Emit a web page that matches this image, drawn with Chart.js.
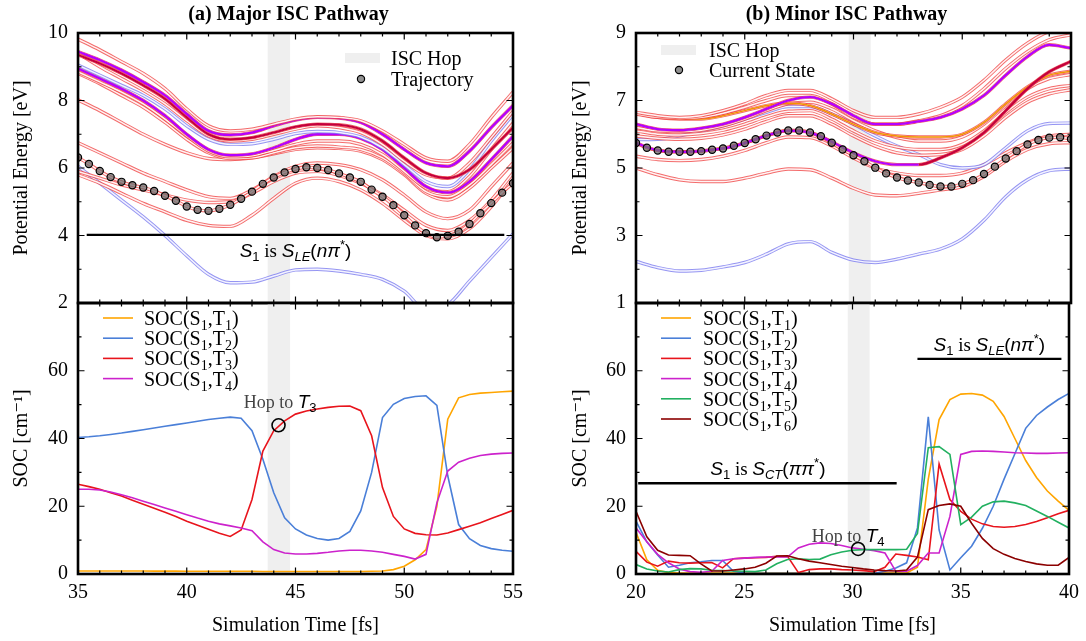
<!DOCTYPE html>
<html>
<head>
<meta charset="utf-8">
<script src="https://cdn.jsdelivr.net/npm/chart.js@4.4.1/dist/chart.umd.min.js"></script>
<style>
  html, body { margin: 0; padding: 0; background: #fff; }
  #wrap { position: relative; width: 1086px; height: 641px; overflow: hidden; background: #fff; }
  canvas { position: absolute; }
</style>
</head>
<body>
<div id="wrap">
  <canvas id="tl" width="540" height="327" style="left:0;top:0"></canvas>
  <canvas id="bl" width="540" height="362" style="left:0;top:279px"></canvas>
  <canvas id="tr" width="530" height="327" style="left:556px;top:0"></canvas>
  <canvas id="br" width="530" height="362" style="left:556px;top:279px"></canvas>
</div>
<script>
// ---------- (a) major pathway, potential energies [eV] ----------
const tlTime = [35, 36, 37, 38, 39, 40, 41, 42, 43, 44, 45, 46, 47, 48, 49, 50, 51, 52, 53, 54, 55];
const tlU1 = [9.82, 9.5, 9.15, 8.8, 8.35, 7.75, 7.25, 7.1, 7.15, 7.3, 7.45, 7.52, 7.5, 7.4, 7.1, 6.7, 6.3, 6.2, 6.7, 7.5, 8.25];
const tlU2 = [9.45, 9.2, 8.9, 8.55, 8.15, 7.6, 7.1, 6.98, 7.05, 7.25, 7.42, 7.5, 7.48, 7.35, 7.0, 6.55, 6.15, 6.05, 6.5, 7.2, 7.85];
const tlU3 = [9.35, 9.1, 8.8, 8.45, 8.05, 7.5, 7.0, 6.85, 6.9, 7.05, 7.22, 7.3, 7.28, 7.15, 6.8, 6.3, 5.85, 5.7, 5.95, 6.55, 7.19];
const tlU4 = [9.4, 9.0, 8.65, 8.3, 7.9, 7.4, 6.95, 6.8, 6.85, 7.0, 7.15, 7.25, 7.2, 7.05, 6.7, 6.2, 5.8, 5.7, 6.15, 6.9, 7.68];
const tlU5 = [9.05, 8.75, 8.45, 8.15, 7.75, 7.25, 6.85, 6.7, 6.72, 6.85, 7.02, 7.08, 7.05, 6.92, 6.6, 6.1, 5.6, 5.45, 5.95, 6.8, 7.58];
const tlU6 = [8.95, 8.65, 8.35, 8.0, 7.55, 7.0, 6.55, 6.38, 6.42, 6.6, 6.85, 7.0, 7.0, 6.88, 6.55, 6.0, 5.45, 5.27, 5.6, 6.25, 6.94];
const tlU7 = [8.85, 8.55, 8.25, 7.9, 7.45, 6.95, 6.5, 6.33, 6.36, 6.52, 6.7, 6.8, 6.8, 6.7, 6.4, 5.9, 5.4, 5.3, 5.75, 6.55, 7.33];
const tlU8 = [8.8, 8.5, 8.15, 7.8, 7.35, 6.85, 6.45, 6.28, 6.3, 6.45, 6.6, 6.65, 6.62, 6.55, 6.3, 5.85, 5.3, 5.15, 5.5, 6.1, 6.74];
const tlU9 = [8.02, 7.7, 7.35, 7.0, 6.7, 6.45, 6.28, 6.25, 6.3, 6.42, 6.55, 6.6, 6.58, 6.5, 6.25, 5.8, 5.25, 5.05, 5.4, 6.0, 6.59];
const tlL1 = [6.75, 6.45, 6.15, 5.85, 5.6, 5.35, 5.15, 5.1, 5.35, 5.75, 6.05, 6.15, 6.1, 5.95, 5.65, 5.2, 4.7, 4.5, 4.75, 5.45, 6.15];
const tlL2 = [5.9, 5.7, 5.5, 5.35, 5.2, 5.05, 4.98, 5.0, 5.25, 5.6, 5.85, 5.9, 5.78, 5.55, 5.2, 4.75, 4.3, 4.15, 4.45, 5.05, 5.85];
const tlL3 = [5.8, 5.55, 5.25, 4.95, 4.7, 4.45, 4.3, 4.27, 4.6, 5.1, 5.55, 5.7, 5.6, 5.35, 4.95, 4.45, 4.0, 3.9, 4.2, 4.85, 5.65];
const tlS0 = [6.05, 5.55, 5.05, 4.55, 4.0, 3.4, 2.85, 2.6, 2.62, 2.8, 2.98, 3.0, 2.95, 2.85, 2.7, 2.35, 1.8, 1.95, 2.65, 3.35, 4.05];
const tlTrajTime = [35, 35.5, 36, 36.5, 37, 37.5, 38, 38.5, 39, 39.5, 40, 40.5, 41, 41.5, 42, 42.5, 43, 43.5, 44, 44.5, 45,
  45.5, 46, 46.5, 47, 47.5, 48, 48.5, 49, 49.5, 50, 50.5, 51, 51.5, 52, 52.5, 53, 53.5, 54, 54.5, 55];
const tlTraj = [6.31, 6.12, 5.91, 5.73, 5.59, 5.49, 5.42, 5.32, 5.18, 5.03, 4.86, 4.76, 4.73, 4.79, 4.91, 5.09, 5.30, 5.53, 5.72, 5.87, 5.97,
  6.02, 6.00, 5.94, 5.84, 5.72, 5.59, 5.36, 5.15, 4.90, 4.60, 4.30, 4.07, 3.95, 3.99, 4.11, 4.34, 4.66, 4.96, 5.27, 5.55];
const tlBand = [43.72, 44.75];
const tlLevel = [35.4, 54.6, 4.02];

// ---------- (a) SOC [cm-1] ----------
const blT1 = [0.9, 0.9, 0.9, 0.9, 0.9, 0.9, 0.9, 0.85, 0.85, 0.85, 0.8, 0.8, 0.8, 0.8, 0.8, 0.8, 0.8, 0.75, 0.75, 0.75, 0.75,
  0.75, 0.75, 0.75, 0.75, 0.75, 0.75, 0.8, 0.9, 1.3, 2.3, 4.2, 7.2, 20, 45.7, 52, 53, 53.4, 53.6, 53.8, 54];
const blT2 = [40.3, 40.5, 40.8, 41.2, 41.6, 42.1, 42.6, 43.1, 43.6, 44.1, 44.6, 45.1, 45.6, 46.0, 46.3, 46.0, 42.3, 33.9, 24, 16.6, 13.3,
  11.5, 10.5, 10.0, 10.5, 12.6, 18.6, 30, 46.2, 50.1, 51.8, 52.4, 52.6, 49.8, 29, 14.6, 10.4, 8.4, 7.5, 7.0, 6.7];
const blT3 = [26.5, 25.8, 25, 24, 23, 21.8, 20.6, 19.4, 18.2, 17, 15.6, 14.4, 13.2, 12, 11.1, 13, 22, 36.3, 42.3, 45.2, 47.2,
  48.1, 48.7, 49.2, 49.5, 49.6, 48.2, 40.8, 25.5, 17, 13.3, 12, 11.6, 11.5, 12.1, 13.1, 14.1, 15.1, 16.4, 17.6, 18.8];
const blT4 = [25, 25, 24.8, 24.2, 23.4, 22.5, 21.5, 20.5, 19.5, 18.5, 17.5, 16.5, 15.6, 14.8, 14.2, 13.6, 12.8, 9.5, 7.2, 6.2, 5.9,
  5.9, 6.1, 6.4, 6.8, 7.0, 7.0, 6.8, 6.4, 5.8, 5.2, 4.4, 5.8, 21, 30.4, 33, 34.2, 35, 35.4, 35.6, 35.7];
const blHop = [44.22, 43.9];

// ---------- (b) minor pathway, potential energies [eV] ----------
const trTime = [20, 21, 22, 23, 24, 25, 26, 27, 28, 29, 30, 31, 32, 33, 34, 35, 36, 37, 38, 39, 40];
const trR1 = [6.65, 6.55, 6.5, 6.55, 6.7, 6.9, 7.15, 7.3, 7.3, 7.05, 6.7, 6.5, 6.5, 6.6, 6.8, 7.1, 7.6, 8.2, 8.7, 9.05, 9.2];
const trR2 = [6.6, 6.5, 6.47, 6.5, 6.62, 6.8, 7.0, 7.15, 7.15, 6.9, 6.5, 6.3, 6.3, 6.4, 6.55, 6.85, 7.35, 7.95, 8.45, 8.8, 8.95];
const trR3 = [6.3, 6.15, 6.12, 6.18, 6.3, 6.5, 6.75, 7.0, 7.1, 6.9, 6.55, 6.3, 6.3, 6.38, 6.5, 6.75, 7.15, 7.75, 8.3, 8.65, 8.55];
const trR4 = [6.2, 6.1, 6.08, 6.12, 6.25, 6.45, 6.7, 6.9, 6.95, 6.75, 6.4, 6.1, 5.9, 5.8, 5.8, 5.92, 6.3, 6.85, 7.35, 7.65, 7.77];
const trR5 = [6.62, 6.5, 6.45, 6.45, 6.55, 6.7, 6.85, 6.92, 6.85, 6.6, 6.3, 6.05, 5.95, 5.92, 5.92, 6.0, 6.35, 6.9, 7.4, 7.75, 7.87];
const trR6 = [6.1, 6.0, 5.98, 6.02, 6.12, 6.3, 6.52, 6.68, 6.7, 6.45, 6.1, 5.8, 5.62, 5.55, 5.55, 5.7, 6.1, 6.65, 7.1, 7.35, 7.45];
const trR7 = [5.95, 5.88, 5.85, 5.88, 5.98, 6.15, 6.38, 6.55, 6.55, 6.3, 5.95, 5.65, 5.45, 5.38, 5.4, 5.55, 5.95, 6.5, 6.95, 7.2, 7.32];
const trR8 = [5.35, 5.25, 5.22, 5.25, 5.35, 5.52, 5.75, 5.92, 5.9, 5.65, 5.3, 5.0, 4.85, 4.78, 4.78, 4.85, 5.1, 5.45, 5.75, 5.95, 6.0];
const trR9 = [5.74, 5.52, 5.48, 5.50, 5.58, 5.74, 5.96, 6.11, 6.05, 5.78, 5.45, 5.2, 5.1, 5.1, 5.3, 5.6, 6.05, 6.7, 7.35, 7.85, 8.16];
const trLow = [5.0, 4.8, 4.65, 4.6, 4.6, 4.7, 4.85, 4.97, 4.95, 4.7, 4.4, 4.2, 4.18, 4.25, 4.35, 4.45, 4.75, 5.2, 5.55, 5.72, 5.75];
const trB2 = [5.84, 5.85, 5.95, 6.1, 6.25, 6.45, 6.65, 6.82, 6.82, 6.6, 6.3, 5.95, 5.65, 5.4, 5.1, 5.0, 5.1, 5.6, 6.1, 6.32, 6.33];
const trS0 = [2.23, 2.05, 1.95, 1.97, 2.07, 2.2, 2.45, 2.75, 2.82, 2.5, 2.27, 2.2, 2.3, 2.45, 2.6, 2.9, 3.45, 4.15, 4.65, 4.92, 4.97];
const trTrajTime = [20, 20.5, 21, 21.5, 22, 22.5, 23, 23.5, 24, 24.5, 25, 25.5, 26, 26.5, 27, 27.5, 28, 28.5, 29, 29.5, 30,
  30.5, 31, 31.5, 32, 32.5, 33, 33.5, 34, 34.5, 35, 35.5, 36, 36.5, 37, 37.5, 38, 38.5, 39, 39.5, 40];
const trTraj = [5.74, 5.60, 5.52, 5.48, 5.48, 5.48, 5.50, 5.54, 5.58, 5.66, 5.74, 5.85, 5.96, 6.05, 6.11, 6.11, 6.05, 5.94, 5.75, 5.55, 5.38,
  5.20, 5.01, 4.84, 4.72, 4.63, 4.57, 4.50, 4.45, 4.45, 4.53, 4.64, 4.82, 5.04, 5.28, 5.50, 5.70, 5.83, 5.90, 5.91, 5.86];
const trBand = [29.78, 30.79];

// ---------- (b) SOC [cm-1] ----------
const brT1 = [12.3, 4.2, 1.1, 0.4, 0.3, 0.3, 0.3, 0.3, 0.3, 0.3, 0.3, 0.3, 0.3, 0.3, 0.3, 0.3, 0.3, 0.3, 0.3, 0.3, 0.3,
  0.3, 0.3, 0.3, 0.3, 0.3, 2.0, 28, 45.6, 51.5, 53.1, 53.3, 52.8, 51, 46.5, 40, 33.5, 28.5, 24.5, 21.5, 18.8];
const brT2 = [15.6, 9.5, 5.6, 2.0, 2.6, 3.3, 3.6, 4.0, 4.0, 0.8, 0.3, 0.2, 0.2, 0.2, 0.2, 0.2, 0.2, 0.2, 0.2, 0.2, 0.2,
  0.2, 0.2, 0.8, 1.8, 3.3, 13.6, 46.4, 13, 1.2, 4.8, 8.2, 13.5, 20, 28, 35.5, 43, 46.8, 49.3, 51.5, 53.3];
const brT3 = [6.7, 3.5, 2.3, 3.8, 3.3, 3.2, 3.3, 3.4, 1.8, 4.5, 4.7, 4.8, 4.9, 5.2, 5.2, 0.4, 1.3, 1.5, 1.5, 1.3, 1.2,
  1.0, 0.7, 2.0, 5.9, 5.5, 5.0, 4.2, 32.5, 22, 18.5, 16.2, 14.8, 14.0, 13.8, 14.0, 14.6, 15.5, 16.6, 17.8, 18.8];
const brT4 = [13.6, 9.5, 5.8, 3.3, 1.5, 0.7, 0.5, 0.8, 4.0, 4.5, 4.7, 4.9, 5.0, 5.0, 5.0, 7.7, 8.8, 9.2, 9.0, 8.4, 7.7,
  7.3, 6.9, 6.2, 0.8, 0.8, 2.5, 6.2, 6.2, 17, 35.3, 36.2, 36.3, 36.2, 36.0, 35.8, 35.7, 35.6, 35.6, 35.7, 35.8];
const brT5 = [2.8, 1.5, 0.9, 0.6, 1.3, 1.6, 1.5, 1.1, 1.0, 0.9, 0.8, 0.7, 1.2, 3.0, 4.3, 4.5, 4.3, 4.4, 5.7, 6.5, 7.0,
  7.2, 7.2, 7.2, 7.2, 7.3, 12, 37.3, 37.6, 35.3, 14.6, 16.8, 20, 21.3, 21.5, 21, 20.2, 18.6, 17, 15.3, 13.6];
const brT6 = [18.5, 11, 7, 5.6, 5.5, 5.4, 3.0, 0.9, 0.9, 1.2, 1.5, 2.0, 3.2, 5.3, 5.4, 4.5, 3.8, 3.3, 2.8, 2.3, 1.9,
  1.5, 1.2, 1.0, 0.9, 1.2, 5, 19, 20.2, 20.7, 20.0, 15, 10.5, 7.5, 5.8, 4.6, 3.7, 3.0, 2.6, 2.6, 4.9];
const brHop = [30.26, 7.4];
const brCTLevel = [20.1, 32.04, 26.8];
const brLELevel = [33.0, 39.65, 63.5];

// ---------- drawing helpers ----------
const SERIF = '"Liberation Serif", "DejaVu Serif", serif';
const SANS = '"Liberation Sans", "DejaVu Sans", sans-serif';
const rm = (s) => `${s}px ${SERIF}`;
const it = (s) => `italic ${s}px ${SANS}`;
const up = (s) => `${s}px ${SANS}`;

const RED = { outer: "rgba(240,70,70,0.8)", inner: "#fff3f3" };
const BLUE = { outer: "rgba(130,130,240,0.85)", inner: "#f3f3ff" };
const OVERLAY = {
  magenta: { color: "#b400ff", width: 2.3 },
  darkred: { color: "#c4003c", width: 2.1 },
  orange: { color: "#f29400", width: 1.5 },
};
const SOC_COLORS = ["#ffa500", "#4a7fd8", "#e8141c", "#cc22cc", "#22b060", "#8b0000"];

function pts(xs, ys) {
  return xs.map((x, i) => ({ x, y: ys[i] }));
}

function addCurve(list, xs, ys, style, switchAt) {
  const data = pts(xs, ys);
  const base = style === "blue" ? BLUE : RED;
  list.push({ data, borderColor: base.outer, borderWidth: 3.4 });
  list.push({ data, borderColor: base.inner, borderWidth: 1.5 });
  if (OVERLAY[style]) {
    const set = { data, borderColor: OVERLAY[style].color, borderWidth: OVERLAY[style].width };
    if (switchAt) {
      // colour changes to dark red once the state character switches
      set.segment = { borderColor: (c) => (c.p0.parsed.x >= switchAt ? OVERLAY.darkred.color : undefined) };
    }
    list.push(set);
  }
}

function rich(ctx, x, y, parts, align) {
  let total = 0;
  parts.forEach((p) => { ctx.font = p.f; total += ctx.measureText(p.t).width; });
  let cx = align === "center" ? x - total / 2 : x;
  ctx.textAlign = "left";
  ctx.textBaseline = "alphabetic";
  parts.forEach((p) => {
    ctx.font = p.f;
    ctx.fillStyle = p.c || "#000";
    ctx.fillText(p.t, cx, y + (p.dy || 0));
    cx += ctx.measureText(p.t).width;
  });
}

const stateText = (sub, orb) => [
  { t: "S", f: it(19) }, { t: "1", f: up(13), dy: 4 },
  { t: " is ", f: rm(19) },
  { t: "S", f: it(19) }, { t: sub, f: it(13), dy: 4 },
  { t: "(", f: up(19) }, { t: orb, f: it(19) }, { t: "*", f: up(13), dy: -8 }, { t: ")", f: up(19) },
];
const socText = (k) => [
  { t: "SOC(S", f: rm(20) }, { t: "1", f: rm(14), dy: 5 },
  { t: ",T", f: rm(20) }, { t: String(k), f: rm(14), dy: 5 }, { t: ")", f: rm(20) },
];
const hopText = (k) => [
  { t: "Hop to ", f: rm(18), c: "#444" }, { t: "T", f: it(19) }, { t: String(k), f: up(13), dy: 4 },
];

function drawTicks(ctx, a, scale, major, minor, vertical) {
  for (let i = 0; ; i++) {
    const v = scale.min + i * minor;
    if (v > scale.max + 1e-9) break;
    const q = (v - scale.min) / major;
    const len = Math.abs(q - Math.round(q)) < 1e-6 ? 6.5 : 3.5;
    const p = scale.getPixelForValue(v);
    ctx.beginPath();
    if (vertical) {
      ctx.moveTo(a.left, p); ctx.lineTo(a.left + len, p);
      ctx.moveTo(a.right, p); ctx.lineTo(a.right - len, p);
    } else {
      ctx.moveTo(p, a.bottom); ctx.lineTo(p, a.bottom - len);
      ctx.moveTo(p, a.top); ctx.lineTo(p, a.top + len);
    }
    ctx.stroke();
  }
}

const decor = {
  id: "decor",
  beforeDatasetsDraw(chart, args, o) {
    const { ctx, chartArea: a, scales: { x } } = chart;
    const x0 = x.getPixelForValue(o.band[0]);
    const x1 = x.getPixelForValue(o.band[1]);
    ctx.save();
    ctx.fillStyle = "#efefef";
    ctx.fillRect(x0, a.top, x1 - x0, a.bottom - a.top);
    ctx.restore();
  },
  afterDatasetsDraw(chart, args, o) {
    const { ctx, chartArea: a, scales: { x, y } } = chart;
    ctx.save();
    (o.levels || []).forEach((l) => {
      ctx.strokeStyle = "#000";
      ctx.lineWidth = 2.4;
      ctx.beginPath();
      ctx.moveTo(x.getPixelForValue(l.line[0]), y.getPixelForValue(l.line[2]));
      ctx.lineTo(x.getPixelForValue(l.line[1]), y.getPixelForValue(l.line[2]));
      ctx.stroke();
      rich(ctx, x.getPixelForValue(l.at[0]), y.getPixelForValue(l.at[1]) + 7, l.text, "center");
    });
    (o.notes || []).forEach((n) => {
      rich(ctx, x.getPixelForValue(n.at[0]), y.getPixelForValue(n.at[1]) + 7, n.text, "center");
    });

    // gnuplot-style frame with inward mirrored ticks
    ctx.strokeStyle = "#000";
    ctx.lineWidth = 1.2;
    drawTicks(ctx, a, x, o.xMajor, o.xMinor, false);
    drawTicks(ctx, a, y, o.yMajor, o.yMinor, true);
    ctx.lineWidth = 2.6;
    ctx.strokeRect(a.left, a.top, a.right - a.left, a.bottom - a.top);

    if (o.heading) {
      ctx.font = `bold 20px ${SERIF}`;
      ctx.fillStyle = "#000";
      ctx.textAlign = "center";
      ctx.textBaseline = "middle";
      ctx.fillText(o.heading, (a.left + a.right) / 2 - 7, 15);
    }

    if (o.keyTop) {
      const k = o.keyTop;
      ctx.fillStyle = "#efefef";
      ctx.fillRect(a.left + k.box, a.top + k.row1 - 5, 35, 10);
      rich(ctx, a.left + k.text, a.top + k.row1 + 7, [{ t: "ISC Hop", f: rm(20) }]);
      ctx.beginPath();
      ctx.arc(a.left + k.marker, a.top + k.row2, 3.6, 0, Math.PI * 2);
      ctx.fillStyle = "rgba(110,110,110,0.75)";
      ctx.fill();
      ctx.lineWidth = 1.2;
      ctx.strokeStyle = "#000";
      ctx.stroke();
      rich(ctx, a.left + k.text, a.top + k.row2 + 7, [{ t: k.label, f: rm(20) }]);
    }

    if (o.keySoc) {
      const k = o.keySoc;
      for (let i = 0; i < k.count; i++) {
        const yy = a.top + 15 + i * 20.2;
        ctx.strokeStyle = SOC_COLORS[i];
        ctx.lineWidth = 1.6;
        ctx.beginPath();
        ctx.moveTo(a.left + 25, yy);
        ctx.lineTo(a.left + 55, yy);
        ctx.stroke();
        rich(ctx, a.left + k.text, yy + 7, socText(i + 1));
      }
    }
    ctx.restore();
  },
};

function finish(datasets) {
  datasets.forEach((d, i) => {
    d.order = -i;
    d.fill = false;
    if (d.pointRadius === undefined) d.pointRadius = 0;
  });
  return datasets;
}

function yAxis(min, max, step, title, width, titlePad, hideTop) {
  return {
    type: "linear", min, max,
    ticks: {
      stepSize: step, color: "#000", padding: 10,
      font: { family: SERIF, size: 20 },
      callback: (v) => (hideTop && v === max ? "" : v),
    },
    grid: { display: false, drawTicks: false },
    border: { display: false },
    title: { display: true, text: title, color: "#000", font: { family: SERIF, size: 20 }, padding: { top: titlePad } },
    afterFit(s) { s.width = width; },
  };
}

function xAxis(min, max, shown) {
  if (!shown) return { type: "linear", min, max, display: false };
  return {
    type: "linear", min, max,
    ticks: { stepSize: 5, color: "#000", padding: 7, font: { family: SERIF, size: 20 } },
    grid: { display: false, drawTicks: false },
    border: { display: false },
    title: { display: true, text: "Simulation Time [fs]", color: "#000", font: { family: SERIF, size: 20 }, padding: { bottom: 3 } },
    afterFit(s) { s.height = 67; },
  };
}

function makeChart(id, datasets, scales, padding, decorOpts, smooth) {
  return new Chart(document.getElementById(id), {
    type: "line",
    data: { datasets: finish(datasets) },
    options: {
      responsive: false,
      animation: false,
      events: [],
      layout: { padding },
      elements: { line: { cubicInterpolationMode: smooth ? "monotone" : "default", tension: 0 } },
      plugins: { legend: { display: false }, tooltip: { enabled: false }, decor: decorOpts },
      scales,
    },
    plugins: [decor],
  });
}

function trajSet(xs, ys) {
  return {
    data: pts(xs, ys), showLine: false, pointRadius: 3.6,
    pointBackgroundColor: "rgba(110,110,110,0.75)", pointBorderColor: "#000", pointBorderWidth: 1.2,
  };
}

function socSets(time, series) {
  return series.map((s, i) => ({ data: pts(time, s), borderColor: SOC_COLORS[i], borderWidth: 1.6 }));
}

// ---------- panel (a) top ----------
const tlSets = [];
addCurve(tlSets, tlTime, tlS0, "blue");
addCurve(tlSets, tlTime, tlU9, "red");
addCurve(tlSets, tlTime, tlU8, "red");
addCurve(tlSets, tlTime, tlU7, "red");
addCurve(tlSets, tlTime, tlU6, "magenta");
addCurve(tlSets, tlTime, tlU5, "blue");
addCurve(tlSets, tlTime, tlU4, "red");
addCurve(tlSets, tlTime, tlU3, "darkred");
addCurve(tlSets, tlTime, tlU2, "magenta");
addCurve(tlSets, tlTime, tlU1, "red");
addCurve(tlSets, tlTime, tlL3, "red");
addCurve(tlSets, tlTime, tlL2, "red");
addCurve(tlSets, tlTime, tlL1, "red");
addCurve(tlSets, tlTrajTime, tlTraj, "red");
tlSets.push(trajSet(tlTrajTime, tlTraj));

makeChart("tl", tlSets,
  { x: xAxis(35, 55, false), y: yAxis(2, 10, 2, "Potential Energy [eV]", 78, 10, false) },
  { top: 33, right: 27, bottom: 24, left: 0 },
  {
    band: tlBand, xMajor: 5, xMinor: 1, yMajor: 2, yMinor: 1,
    heading: "(a) Major ISC Pathway",
    levels: [{ line: tlLevel, at: [45, 3.57], text: stateText("LE", "nπ") }],
    keyTop: { box: 267, text: 313, marker: 283, row1: 25, row2: 46, label: "Trajectory" },
  }, true);

// ---------- panel (a) bottom ----------
const blSets = socSets(tlTrajTime, [blT1, blT2, blT3, blT4]);
blSets.push({
  data: [{ x: blHop[0], y: blHop[1] }], showLine: false, pointRadius: 6.5,
  pointBackgroundColor: "rgba(0,0,0,0)", pointBorderColor: "#000", pointBorderWidth: 1.6,
});
makeChart("bl", blSets,
  { x: xAxis(35, 55, true), y: yAxis(0, 80, 20, "SOC [cm⁻¹]", 78, 10, true) },
  { top: 24, right: 27, bottom: 0, left: 0 },
  {
    band: tlBand, xMajor: 5, xMinor: 1, yMajor: 20, yMinor: 10,
    notes: [{ at: [44.29, 51], text: hopText(3) }],
    keySoc: { count: 4, text: 66 },
  }, false);

// ---------- panel (b) top ----------
const trSets = [];
addCurve(trSets, trTime, trS0, "blue");
addCurve(trSets, trTime, trLow, "red");
addCurve(trSets, trTime, trR8, "red");
addCurve(trSets, trTime, trB2, "blue");
addCurve(trSets, trTime, trR7, "red");
addCurve(trSets, trTime, trR6, "red");
addCurve(trSets, trTime, trR4, "red");
addCurve(trSets, trTime, trR5, "orange");
addCurve(trSets, trTime, trR2, "red");
addCurve(trSets, trTime, trR1, "red");
addCurve(trSets, trTime, trR3, "magenta");
addCurve(trSets, trTrajTime, trTraj, "red");
addCurve(trSets, trTime, trR9, "magenta", 33);
trSets.push(trajSet(trTrajTime, trTraj));

makeChart("tr", trSets,
  { x: xAxis(20, 40, false), y: yAxis(1, 9, 2, "Potential Energy [eV]", 80, 13, false) },
  { top: 33, right: 15, bottom: 24, left: 0 },
  {
    band: trBand, xMajor: 5, xMinor: 1, yMajor: 2, yMinor: 1,
    heading: "(b) Minor ISC Pathway",
    keyTop: { box: 25, text: 73, marker: 43, row1: 17, row2: 37, label: "Current State" },
  }, true);

// ---------- panel (b) bottom ----------
const brSets = socSets(trTrajTime, [brT1, brT2, brT3, brT4, brT5, brT6]);
brSets.push({
  data: [{ x: brHop[0], y: brHop[1] }], showLine: false, pointRadius: 6.5,
  pointBackgroundColor: "rgba(0,0,0,0)", pointBorderColor: "#000", pointBorderWidth: 1.6,
});
makeChart("br", brSets,
  { x: xAxis(20, 40, true), y: yAxis(0, 80, 20, "SOC [cm⁻¹]", 80, 13, true) },
  { top: 24, right: 15, bottom: 0, left: 0 },
  {
    band: trBand, xMajor: 5, xMinor: 1, yMajor: 20, yMinor: 10,
    levels: [
      { line: brCTLevel, at: [26.09, 31.4], text: stateText("CT", "ππ") },
      { line: brLELevel, at: [36.32, 67.8], text: stateText("LE", "nπ") },
    ],
    notes: [{ at: [29.8, 11.6], text: hopText(4) }],
    keySoc: { count: 6, text: 67 },
  }, false);
</script>
</body>
</html>
